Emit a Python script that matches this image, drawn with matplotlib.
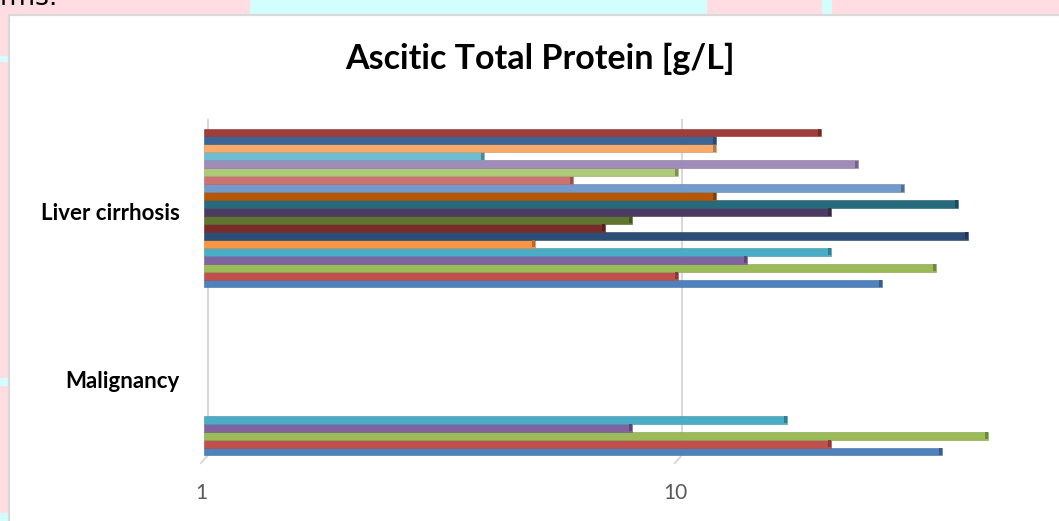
import numpy as np
import matplotlib
matplotlib.use("Agg")
import matplotlib.pyplot as plt
from matplotlib.patches import Rectangle
from matplotlib.lines import Line2D
from matplotlib.colors import to_rgb

# ---- data -------------------------------------------------------------
title = "Ascitic Total Protein [g/L]"
categories = ["Malignancy", "Liver cirrhosis"]          # bottom to top
# one value per patient series (series 1 is the bottom bar of each group)
liver_cirrhosis = [27, 10, 35, 14, 21, 5, 41, 7, 8, 21,
                   39, 12, 30, 6, 10, 24, 3.9, 12, 12, 20]
malignancy = [36, 21, 45, 8, 17]
tick_values = [1, 10]
tick_labels = ["1", "10"]

series_colors = ["#4F81BD", "#C0504D", "#9BBB59", "#8064A2", "#4BACC6",
                 "#F79646", "#2C4D75", "#772C2A", "#5F7530", "#4D3B62",
                 "#276A7C", "#B65708", "#729ACA", "#CD7371", "#AFC97A",
                 "#A08CB8", "#6FBDD2", "#F9AB6B", "#3A6595", "#A03C3A"]

n_series = len(liver_cirrhosis)
values = np.full((len(categories), n_series), np.nan)
values[0, :len(malignancy)] = malignancy
values[1, :] = liver_cirrhosis

# ---- figure geometry (pixels) ----------------------------------------
W, H = 1059, 521
DPI = 100
fig = plt.figure(figsize=(W / DPI, H / DPI), dpi=DPI)
fig.patch.set_facecolor("#FFDDE2")


def fx(px):
    return px / W


def fy(py):
    return 1 - py / H


# page background decoration around the chart frame
for x0, x1 in [(250, 707), (822, 832)]:
    fig.add_artist(Rectangle((fx(x0), fy(16)), fx(x1 - x0), 16 / H,
                             transform=fig.transFigure, facecolor="#D3FEFE",
                             edgecolor="none", zorder=0))
for y0, y1 in [(56, 62), (378, 386), (513, 521)]:
    fig.add_artist(Rectangle((0, fy(y1)), fx(8), (y1 - y0) / H,
                             transform=fig.transFigure, facecolor="#D3FEFE",
                             edgecolor="none", zorder=0))
fig.text(fx(0), fy(5), "rms.", fontsize=19, family="DejaVu Sans",
         ha="left", va="baseline", color="black")

# chart frame
fig.add_artist(Rectangle((fx(9), fy(540)), fx(1080), (540 - 15) / H,
                         transform=fig.transFigure, facecolor="white",
                         edgecolor="#D9D9D9", linewidth=1.6, zorder=1))

# ---- axes -------------------------------------------------------------
ax_left, ax_top, ax_bottom = 204, 120, 462
decade_px = 474
cat_px = 168
y0_px = 376
ax = fig.add_axes([fx(ax_left), fy(ax_bottom), 1 - fx(ax_left),
                   (ax_bottom - ax_top) / H])
ax.set_zorder(2)
ax.patch.set_alpha(0)
ax.set_xscale("log")
ax.set_xlim(1, 10 ** ((W - ax_left) / decade_px))
ax.set_ylim(-(ax_bottom - y0_px) / cat_px, (y0_px - ax_top) / cat_px)
for s in ax.spines.values():
    s.set_visible(False)
ax.set_xticks([])
ax.set_yticks([])
ax.minorticks_off()

# bars with a darker bevelled end
group_w = 0.946
bar_h = group_w / n_series
cap = 10 ** (3 / decade_px)
for c in range(len(categories)):
    for i in range(n_series):
        v = values[c, i]
        if np.isnan(v):
            continue
        y = c - group_w / 2 + (i + 0.5) * bar_h
        col = np.array(to_rgb(series_colors[i]))
        dark = col * 0.72
        ax.barh(y, v - 1, left=1, height=bar_h, color=col,
                edgecolor=col * 0.85, linewidth=0.4, zorder=3)
        ax.barh(y, v - v / cap, left=v / cap, height=bar_h * 0.9,
                color=dark, edgecolor="none", zorder=4)

# gridlines with a small floor bend at the bottom
fig.canvas.draw()
for tv in tick_values:
    xp = ax.transData.transform((tv, 0))[0]
    pts = [(xp + 4, 120), (xp + 4, 455), (xp - 3, 463)]
    fig.add_artist(Line2D([fx(p[0]) for p in pts], [fy(p[1]) for p in pts],
                          transform=fig.transFigure, color="#D9D9D9",
                          linewidth=1.5, zorder=1.5))

# tick labels
for tv, tl in zip(tick_values, tick_labels):
    ax.annotate(tl, xy=(tv, 0), xycoords=("data", "axes fraction"),
                xytext=(-3, -31), textcoords="offset pixels",
                ha="center", va="center", fontsize=15, family="Lato",
                color="#595959", annotation_clip=False)

# category labels
for c, name in enumerate(categories):
    ax.annotate(name, xy=(0, c), xycoords=("axes fraction", "data"),
                xytext=(-24, -5), textcoords="offset pixels",
                ha="right", va="center", fontsize=16, family="Lato",
                fontweight="bold", color="black", annotation_clip=False)

fig.text(fx(540), fy(59), title, fontsize=24.5, family="Lato",
         fontweight="bold", ha="center", va="center", color="black")

fig.savefig("out.png", dpi=DPI, facecolor=fig.get_facecolor())
